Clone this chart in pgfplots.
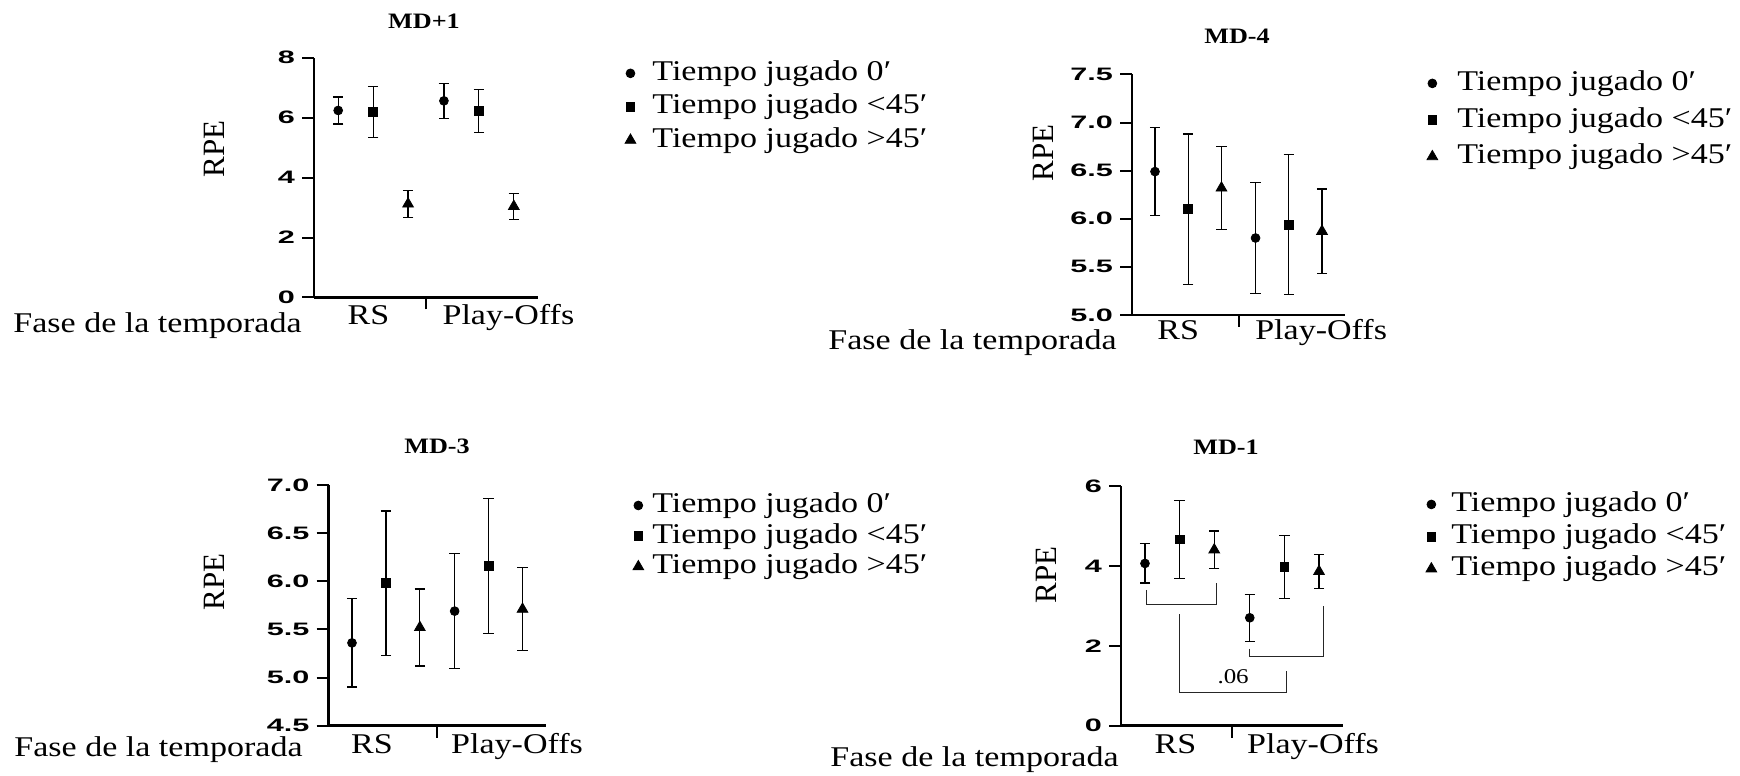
\documentclass[border=0pt]{standalone}
\usepackage{fontspec}
\setmainfont{Liberation Serif}[FakeStretch=1.19]
\newfontfamily\rpefont{Liberation Serif}
\newfontfamily\tickfont{Liberation Sans}[FakeStretch=1.7]
\usepackage{pgfplots}
\pgfplotsset{compat=1.18}

\newcommand\lab{\fontsize{14.3}{16}\selectfont}
\newcommand\ttl{\fontsize{11}{13}\selectfont\bfseries}
\newcommand\tck{\tickfont\bfseries\fontsize{9}{10}\selectfont}
\newcommand\rpe{\rpefont\fontsize{15.5}{17}\selectfont}

\pgfplotsset{
  rpestyle/.style={
    scale only axis,
    axis lines=left,
    axis line style={-, line width=1.3pt, black},
    tick style={line width=1.0pt, black},
    tick align=outside,
    major tick length=6pt,
    xmin=0, xmax=1,
    xtick={0.5}, xticklabels={},
    yticklabel style={font=\tck},
    /pgf/number format/assume math mode=true,
    clip=false,
    legend cell align=left,
    legend style={draw=none, fill=none, font=\lab, inner sep=0pt, anchor=north west,
      nodes={inner sep=0pt, text height=10.7pt, text depth=3.6pt}},
    legend image code/.code={\draw[##1] plot coordinates {(0pt,0pt)};},
  },
  s0/.style={only marks, black, mark=*, mark size=2.2pt},
  s1/.style={only marks, black, mark=square*, mark size=2.2pt},
  s2/.style={only marks, black, mark=triangle*, mark size=3.1pt},
  eb/.style={error bars/.cd, y dir=both, y explicit,
    error bar style={line width=0.6pt, black},
    error mark options={rotate=90, line width=0.6pt, mark size=2.6pt, black}},
  onedec/.style={yticklabel={\pgfmathprintnumber[fixed,fixed zerofill,precision=1]{\tick}}},
}

\begin{document}
\begin{tikzpicture}
\useasboundingbox (0,0) rectangle (870pt,388pt);

% ---------------- MD+1 ----------------
\begin{axis}[rpestyle, at={(157pt,239.25pt)}, anchor=south west,
  width=112pt, height=119.9pt, ymin=0, ymax=8, ytick={0,2,4,6,8},
  legend style={at={(1.387,0.996)}, row sep=2.4pt, column sep=8.3pt}]
\addplot[s0, eb] table[x=x, y=y, y error=e] {
x y e
0.108 6.24 0.45
0.580 6.56 0.59
};
\addplot[s1, eb] table[x=x, y=y, y error=e] {
x y e
0.264 6.19 0.86
0.736 6.22 0.71
};
\addplot[s2, eb] table[x=x, y=y, y error=e] {
x y e
0.420 3.12 0.44
0.892 3.04 0.43
};
\legend{Tiempo jugado 0′, Tiempo jugado <45′, Tiempo jugado >45′}
\node[anchor=base, font=\lab] at (rel axis cs:0.243,0) [yshift=-13.5pt] {RS};
\node[anchor=base, font=\lab] at (rel axis cs:0.868,0) [yshift=-13.5pt] {Play-Offs};
\end{axis}

% ---------------- MD-4 ----------------
\begin{axis}[rpestyle, onedec, at={(566pt,230.5pt)}, anchor=south west,
  width=106.5pt, height=120.3pt, ymin=5, ymax=7.5, ytick={5,5.5,6,6.5,7,7.5},
  legend style={at={(1.383,1.0237)}, row sep=4pt, column sep=9.8pt}]
\addplot[s0, eb] table[x=x, y=y, y error=e] {
x y e
0.108 6.49 0.455
0.580 5.80 0.58
};
\addplot[s1, eb] table[x=x, y=y, y error=e] {
x y e
0.264 6.10 0.78
0.736 5.94 0.73
};
\addplot[s2, eb] table[x=x, y=y, y error=e] {
x y e
0.420 6.32 0.43
0.892 5.87 0.44
};
\legend{Tiempo jugado 0′, Tiempo jugado <45′, Tiempo jugado >45′}
\node[anchor=base, font=\lab] at (rel axis cs:0.217,0) [yshift=-12.5pt] {RS};
\node[anchor=base, font=\lab] at (rel axis cs:0.888,0) [yshift=-12.5pt] {Play-Offs};
\end{axis}

% ---------------- MD-3 ----------------
\begin{axis}[rpestyle, onedec, at={(164.25pt,25.15pt)}, anchor=south west,
  width=108.75pt, height=120.35pt, ymin=4.5, ymax=7.0, ytick={4.5,5,5.5,6,6.5,7},
  legend style={at={(1.398,0.976)}, row sep=1pt, column sep=4.3pt}]
\addplot[s0, eb] table[x=x, y=y, y error=e] {
x y e
0.108 5.36 0.457
0.580 5.69 0.60
};
\addplot[s1, eb] table[x=x, y=y, y error=e] {
x y e
0.264 5.98 0.75
0.736 6.16 0.70
};
\addplot[s2, eb] table[x=x, y=y, y error=e] {
x y e
0.420 5.52 0.40
0.892 5.71 0.43
};
\legend{Tiempo jugado 0′, Tiempo jugado <45′, Tiempo jugado >45′}
\node[anchor=base, font=\lab] at (rel axis cs:0.20,0) [yshift=-14pt] {RS};
\node[anchor=base, font=\lab] at (rel axis cs:0.867,0) [yshift=-14pt] {Play-Offs};
\end{axis}

% ---------------- MD-1 ----------------
\begin{axis}[rpestyle, at={(560.5pt,25.15pt)}, anchor=south west,
  width=111pt, height=119.9pt, ymin=0, ymax=6, ytick={0,2,4,6},
  legend style={at={(1.372,0.984)}, row sep=1.8pt, column sep=7.3pt}]
\addplot[s0, eb] table[x=x, y=y, y error=e] {
x y e
0.108 4.06 0.49
0.580 2.70 0.59
};
\addplot[s1, eb] table[x=x, y=y, y error=e] {
x y e
0.264 4.66 0.98
0.736 3.97 0.78
};
\addplot[s2, eb] table[x=x, y=y, y error=e] {
x y e
0.420 4.40 0.47
0.892 3.86 0.43
};
\legend{Tiempo jugado 0′, Tiempo jugado <45′, Tiempo jugado >45′}
\addplot[black!85, line width=0.5pt, forget plot] coordinates {(0.115,3.40) (0.115,3.04) (0.428,3.04) (0.428,3.57)};
\addplot[black!85, line width=0.5pt, forget plot] coordinates {(0.264,2.785) (0.264,0.84) (0.745,0.84) (0.745,1.37)};
\addplot[black!85, line width=0.5pt, forget plot] coordinates {(0.579,1.93) (0.579,1.74) (0.911,1.74) (0.911,3.0)};
\node[font=\fontsize{10.5}{12}\selectfont] at (axis cs:0.505,1.22) {.06};
\node[anchor=base, font=\lab] at (rel axis cs:0.245,0) [yshift=-14pt] {RS};
\node[anchor=base, font=\lab] at (rel axis cs:0.865,0) [yshift=-14pt] {Play-Offs};
\end{axis}

% ---------------- titles and labels ----------------
\node[anchor=base, font=\ttl] at (212pt,373.5pt) {MD+1};
\node[anchor=base, font=\ttl] at (618.5pt,366pt) {MD-4};
\node[anchor=base, font=\ttl] at (218.5pt,161.3pt) {MD-3};
\node[anchor=base, font=\ttl] at (613pt,160.8pt) {MD-1};

\node[rotate=90, font=\rpe] at (107pt,313.5pt) {RPE};
\node[rotate=90, font=\rpe] at (521.5pt,311.5pt) {RPE};
\node[rotate=90, font=\rpe] at (107pt,97pt) {RPE};
\node[rotate=90, font=\rpe] at (523pt,100.5pt) {RPE};

\node[anchor=base west, font=\lab, inner sep=0pt] at (6.5pt,221.5pt) {Fase de la temporada};
\node[anchor=base west, font=\lab, inner sep=0pt] at (414pt,213pt) {Fase de la temporada};
\node[anchor=base west, font=\lab, inner sep=0pt] at (7pt,9.65pt) {Fase de la temporada};
\node[anchor=base west, font=\lab, inner sep=0pt] at (415pt,4.65pt) {Fase de la temporada};
\end{tikzpicture}
\end{document}
